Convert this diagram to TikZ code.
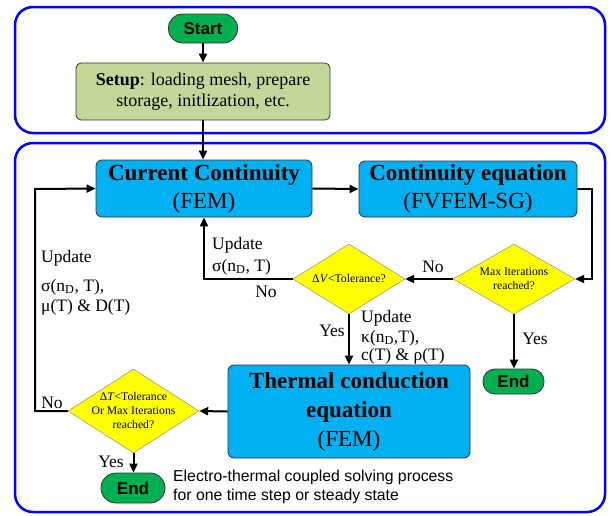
\documentclass[tikz,border=0pt]{standalone}
\usepackage{fontspec}
\setmainfont{Liberation Serif}
\setsansfont{Liberation Sans}
\usetikzlibrary{arrows.meta,shapes.geometric}
\definecolor{frameblue}{HTML}{0000FF}
\definecolor{boxcyan}{HTML}{00B0F0}
\definecolor{termgreen}{HTML}{00B050}
\definecolor{setupgreen}{HTML}{C4D79B}
\definecolor{diayellow}{HTML}{FFFF00}
\tikzset{
  frame/.style={draw=frameblue,line width=2.5pt,rounded corners=18pt},
  term/.style={draw=black!80,fill=termgreen,rounded corners=12pt,line width=0.8pt,
    font=\sffamily\bfseries\fontsize{17}{20}\selectfont,inner sep=0pt},
  procbox/.style={draw=black!80,fill=boxcyan,rounded corners=6pt,line width=0.8pt,
    align=center,inner sep=0pt,font=\fontsize{23}{28}\selectfont},
  decide/.style={diamond,draw=black!50,fill=diayellow,line width=0.4pt,inner sep=0pt},
  dtext/.style={align=center,inner sep=0pt,font=\fontsize{11.7}{14}\selectfont},
  flow/.style={line width=2pt,-{Triangle[length=9pt,width=8pt]}},
  lab/.style={inner sep=0pt,font=\fontsize{17.5}{20}\selectfont},
}
\begin{document}
\begin{tikzpicture}[x=1pt,y=-1pt]
\useasboundingbox (0,0) rectangle (611,515);
% frames
\draw[frame] (15,7) rectangle (605,133);
\draw[frame] (15,143) rectangle (605,512);
% nodes
\node[term,minimum width=69pt,minimum height=29pt,rounded corners=14pt] (start) at (203,28.5) {Start};
\node[draw=black!80,fill=setupgreen,rounded corners=5pt,line width=0.8pt,align=center,
  minimum width=254pt,minimum height=57pt,inner sep=0pt,font=\fontsize{18}{21}\selectfont]
  (setup) at (203,91.5) {\textbf{Setup}: loading mesh, prepare\\storage, initlization, etc.};
\node[procbox,minimum width=216pt,minimum height=57pt] (cc) at (204,188.5)
  {\textbf{Current Continuity}\\(FEM)};
\node[procbox,minimum width=218pt,minimum height=56pt] (ce) at (468,189)
  {\textbf{Continuity equation}\\(FVFEM-SG)};
\node[decide,minimum width=122pt,minimum height=70pt] (maxd) at (514,279) {};
\node[dtext] (maxdt) at (maxd.center) {Max Iterations\\reached?};
\node[decide,minimum width=112pt,minimum height=70pt] (dvd) at (349,279) {};
\node[dtext] (dvdt) at (dvd.center) {Δ\textit{V}<Tolerance?};
\node[term,minimum width=61pt,minimum height=25pt] (end1) at (513.5,381.5) {End};
\node[procbox,minimum width=242pt,minimum height=93pt,font=\fontsize{23}{29}\selectfont] (th) at (349,411.5)
  {\textbf{Thermal conduction}\\\textbf{equation}\\(FEM)};
\node[decide,minimum width=131pt,minimum height=84pt] (dtd) at (133.5,411) {};
\node[dtext] (dtdt) at (dtd.center) {Δ\textit{T}<Tolerance\\Or Max Iterations\\reached?};
\node[term,minimum width=64pt,minimum height=30pt,rounded corners=15pt] (end2) at (133,488) {End};
\coordinate (ceturn) at (592,189);
\coordinate (loop) at (35,189);
% connectors
\draw[flow] (start) -- (setup);
\draw[flow] (setup.south) -- (setup.south |- cc.north);
\draw[flow] (cc.east) -- (ce.west);
\draw[flow] (ce.east) -- (ceturn) |- (maxd.east);
\draw[flow] (maxd.west) -- (dvd.east);
\draw[flow] (dvd.west) -| (cc.south);
\draw[flow] (dvd.south) -- (dvd.south |- th.north);
\draw[flow] (maxd.south) -- (maxd.south |- end1.north);
\draw[flow] (th.west) -- (dtd.east);
\draw[flow] (dtd.west) -| (loop) -- (cc.west);
\draw[flow] (dtd.south) -- (dtd.south |- end2.north);
% labels
\node[lab,anchor=west] (u1a) at (41,258) {Update};
\node[lab,anchor=west] (u1b) at (41,287) {σ(n\textsubscript{D}, T),};
\node[lab,anchor=west] (u1c) at (41,307) {μ(T) \& D(T)};
\node[lab,anchor=west] (u2a) at (212,245) {Update};
\node[lab,anchor=west] (u2b) at (212,267) {σ(n\textsubscript{D}, T)};
\node[lab] (no1) at (266,292) {No};
\node[lab] (no2) at (433,267) {No};
\node[lab] (yes1) at (332,331) {Yes};
\node[lab,anchor=west] (u3a) at (361,318) {Update};
\node[lab,anchor=west] (u3b) at (361,338) {κ(n\textsubscript{D},T),};
\node[lab,anchor=west] (u3c) at (361,356) {c(T) \& ρ(T)};
\node[lab] (yes2) at (535,339) {Yes};
\node[lab] (no3) at (52,403) {No};
\node[lab] (yes3) at (111,462) {Yes};
\node[anchor=west,align=left,inner sep=0pt,font=\sffamily\fontsize{15.8}{19}\selectfont] (cap) at (173,486.5)
  {Electro-thermal coupled solving process\\for one time step or steady state};
\end{tikzpicture}
\end{document}
